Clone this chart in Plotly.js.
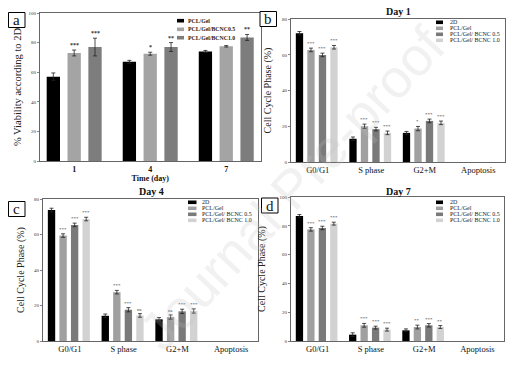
<!DOCTYPE html>
<html>
<head>
<meta charset="utf-8">
<script src="https://cdn.plot.ly/plotly-3.0.1.min.js"></script>
<style>html,body{margin:0;padding:0;background:#fff;}#chart{width:516px;height:367px;}</style>
</head>
<body>
<div id="chart"></div>
<script>
// ---------- DATA ----------
// Panel a: viability
const days = ['1', '4', '7'];
const viabNames = ['PCL/Gel', 'PCL/Gel/BCNC0.5', 'PCL/Gel/BCNC1.0'];
const viabGel = [57, 67, 74];
const viabGelErr = [2.5, 1, 0.7];
const viab05 = [73, 72.5, 77.5];
const viab05Err = [2, 1, 0.5];
const viab10 = [77, 77, 83.5];
const viab10Err = [6, 3, 2];
const viabGelSig = ['', '', ''];
const viab05Sig = ['***', '*', ''];
const viab10Sig = ['***', '**', '**'];

// Panels b-d: cell cycle (Apoptosis shows no bar)
const phases = ['G0/G1', 'S phase', 'G2+M', 'Apoptosis'];
const cycleNames = ['2D', 'PCL/Gel', 'PCL/Gel/ BCNC 0.5', 'PCL/Gel/ BCNC 1.0'];

const day1_2D = [72, 13, 16.3, null];
const day1_Gel = [62.7, 20, 18.7, null];
const day1_05 = [59.9, 18.4, 23, null];
const day1_10 = [64.2, 16.3, 21.9, null];
const day1_2DErr = [1, 1, 0.8, null];
const day1_GelErr = [1, 1.2, 1.2, null];
const day1_05Err = [1, 1, 1, null];
const day1_10Err = [1, 1, 1, null];
const day1_2DSig = ['', '', '', ''];
const day1_GelSig = ['***', '***', '*', ''];
const day1_05Sig = ['***', '***', '***', ''];
const day1_10Sig = ['***', '***', '***', ''];

const day4_2D = [73.8, 14.2, 12.2, null];
const day4_Gel = [59.4, 27.5, 13.5, null];
const day4_05 = [65.4, 17.6, 16.7, null];
const day4_10 = [68.7, 14.4, 16.9, null];
const day4_2DErr = [1, 1, 1, null];
const day4_GelErr = [1, 1, 1.2, null];
const day4_05Err = [1, 1.2, 1.2, null];
const day4_10Err = [1, 1, 1.2, null];
const day4_2DSig = ['', '', '', ''];
const day4_GelSig = ['***', '***', 'ns', ''];
const day4_05Sig = ['***', '***', '***', ''];
const day4_10Sig = ['***', 'ns', '***', ''];

const day7_2D = [86.8, 4.4, 7.4, null];
const day7_Gel = [77.5, 10.9, 9.7, null];
const day7_05 = [78.5, 9.3, 10.9, null];
const day7_10 = [81.5, 7.9, 9.7, null];
const day7_2DErr = [1, 1.3, 1, null];
const day7_GelErr = [1.2, 1.3, 1.3, null];
const day7_05Err = [1.2, 1, 1.2, null];
const day7_10Err = [1, 1, 1, null];
const day7_2DSig = ['', '', '', ''];
const day7_GelSig = ['***', '***', '**', ''];
const day7_05Sig = ['***', '***', '***', ''];
const day7_10Sig = ['***', '***', '**', ''];

// ---------- STYLE / LAYOUT HELPERS ----------
const W = 516, H = 367;
const px = v => v / W;
const py = v => 1 - v / H;
const FONT = 'Liberation Serif, Times New Roman, serif';

const viabColors = ['#000000', '#a4a4a4', '#7d7d7d'];
const cycleColors = ['#000000', '#a0a0a0', '#7a7a7a', '#d2d2d2'];

const offA = [-0.362, -0.088, 0.186], widA = 0.175;
const offC = [-0.41, -0.195, 0.02, 0.235], widC = 0.137;

const traces = [];
const annotations = [];
const shapes = [];

function addBars(xs, seriesList, errList, sigList, colors, offs, wid, xa, ya, sigSize, sigBold) {
  seriesList.forEach((vals, i) => {
    traces.push({
      type: 'bar', x: xs, y: vals, xaxis: xa, yaxis: ya,
      name: '', showlegend: false,
      offset: offs[i], width: wid,
      marker: {color: colors[i], line: {width: 0}},
      error_y: {type: 'data', array: errList[i], color: '#222', thickness: 0.8, width: 2, visible: true},
      hoverinfo: 'y'
    });
    sigList[i].forEach((s, k) => {
      if (!s || vals[k] === null) return;
      annotations.push({
        xref: xa, yref: ya, x: k + offs[i] + wid / 2, y: vals[k] + errList[i][k],
        text: sigBold ? '<b>' + s + '</b>' : s, showarrow: false, yanchor: 'bottom', xanchor: 'center',
        yshift: 0, font: {family: FONT, size: sigSize, color: '#333'}
      });
    });
  });
}

addBars(days, [viabGel, viab05, viab10], [viabGelErr, viab05Err, viab10Err],
  [viabGelSig, viab05Sig, viab10Sig], viabColors, offA, widA, 'x', 'y', 6, true);
addBars(phases, [day1_2D, day1_Gel, day1_05, day1_10], [day1_2DErr, day1_GelErr, day1_05Err, day1_10Err],
  [day1_2DSig, day1_GelSig, day1_05Sig, day1_10Sig], cycleColors, offC, widC, 'x2', 'y2', 5, false);
addBars(phases, [day4_2D, day4_Gel, day4_05, day4_10], [day4_2DErr, day4_GelErr, day4_05Err, day4_10Err],
  [day4_2DSig, day4_GelSig, day4_05Sig, day4_10Sig], cycleColors, offC, widC, 'x3', 'y3', 5, false);
addBars(phases, [day7_2D, day7_Gel, day7_05, day7_10], [day7_2DErr, day7_GelErr, day7_05Err, day7_10Err],
  [day7_2DSig, day7_GelSig, day7_05Sig, day7_10Sig], cycleColors, offC, widC, 'x4', 'y4', 5, false);

// manual legends
function addLegend(names, colors, swX0, swX1, txtX, rowsY, fsize, bold) {
  names.forEach((n, i) => {
    shapes.push({type: 'rect', xref: 'paper', yref: 'paper',
      x0: px(swX0), x1: px(swX1), y0: py(rowsY[i] + 1.8), y1: py(rowsY[i] - 1.8),
      fillcolor: colors[i], line: {width: 0}});
    annotations.push({xref: 'paper', yref: 'paper', x: px(txtX), y: py(rowsY[i]),
      xanchor: 'left', yanchor: 'middle', showarrow: false,
      text: bold ? '<b>' + n + '</b>' : n, font: {family: FONT, size: fsize, color: '#222'}});
  });
}
addLegend(viabNames, viabColors, 177, 184, 185.5, [20.7, 29.3, 37.7], 5.8, true);
addLegend(cycleNames, cycleColors, 436, 443, 447.5, [22.3, 28.3, 34.3, 40.3], 6, false);
addLegend(cycleNames, cycleColors, 188, 196.5, 199.5, [202.3, 208.3, 214.3, 220.3], 6, false);
addLegend(cycleNames, cycleColors, 436, 443, 447.5, [202.3, 208.3, 214.3, 220.3], 6, false);

// panel letters
function addLetter(t, x0, x1, y0, y1) {
  shapes.push({type: 'rect', xref: 'paper', yref: 'paper', x0: px(x0), x1: px(x1), y0: py(y1), y1: py(y0),
    line: {color: '#000', width: 1}, fillcolor: '#fff'});
  annotations.push({xref: 'paper', yref: 'paper', x: px((x0 + x1) / 2), y: py((y0 + y1) / 2),
    text: t, showarrow: false, xanchor: 'center', yanchor: 'middle',
    font: {family: FONT, size: 15, color: '#111'}});
}
addLetter('a', 8.5, 25, 12.5, 27.5);
addLetter('b', 260, 276.5, 11.5, 26.5);
addLetter('c', 8.5, 25, 201.5, 216.5);
addLetter('d', 261.5, 278, 198, 213);

// panel titles
[['Day 1', 398, 11.5], ['Day 4', 151, 192], ['Day 7', 398, 191.5]].forEach(d => {
  annotations.push({xref: 'paper', yref: 'paper', x: px(d[1]), y: py(d[2]), text: '<b>' + d[0] + '</b>',
    showarrow: false, xanchor: 'center', yanchor: 'middle', font: {family: FONT, size: 10, color: '#111'}});
});

// watermark
annotations.push({xref: 'paper', yref: 'paper', x: px(292), y: py(188), text: 'Journal Pre-proof',
  showarrow: false, textangle: -47, xanchor: 'center', yanchor: 'middle',
  font: {family: 'Liberation Sans, Arial, sans-serif', size: 54, color: 'rgba(190,190,190,0.22)'}});

function xAxis(dom, anchor, range, tickfont) {
  return {domain: dom, anchor: anchor, range: range, type: 'category',
    showline: true, linecolor: '#666', linewidth: 1, mirror: true,
    ticks: '', showgrid: false, zeroline: false, fixedrange: true,
    tickfont: tickfont};
}
function yAxis(dom, anchor, range, dtick, title, standoff, tsize) {
  return {domain: dom, anchor: anchor, range: range, dtick: dtick,
    showline: true, linecolor: '#666', linewidth: 1, mirror: true,
    ticks: 'outside', ticklen: 2, tickwidth: 0.8, tickcolor: '#666',
    showgrid: false, zeroline: false, fixedrange: true,
    tickfont: {family: FONT, size: 5, color: '#333'},
    title: {text: title, standoff: standoff, font: {family: FONT, size: tsize, color: '#222'}}};
}

const catFont = {family: FONT, size: 8.5, color: '#111'};
const layout = {
  width: W, height: H, margin: {l: 0, r: 0, t: 0, b: 0},
  paper_bgcolor: '#fff', plot_bgcolor: '#fff',
  showlegend: false, barmode: 'group',
  font: {family: FONT},
  xaxis: Object.assign(xAxis([px(40), px(260.5)], 'y', [-0.45, 2.45], {family: FONT, size: 8, color: '#111'}),
    {tickprefix: '<b>', ticksuffix: '</b>', title: {text: '<b>Time (day)</b>', standoff: 2, font: {family: FONT, size: 8, color: '#111'}}}),
  yaxis: yAxis([py(161), py(13)], 'x', [0, 100], 20, '% Viability according to 2D', 4, 10.5),
  xaxis2: xAxis([px(291), px(505)], 'y2', [-0.5, 3.5], catFont),
  yaxis2: yAxis([py(162), py(19)], 'x2', [0, 80], 20, 'Cell Cycle Phase (%)', 8, 10),
  xaxis3: xAxis([px(43), px(258)], 'y3', [-0.5, 3.5], catFont),
  yaxis3: yAxis([py(341), py(199)], 'x3', [0, 80], 20, 'Cell Cycle Phase (%)', 7, 10),
  xaxis4: xAxis([px(291), px(504)], 'y4', [-0.5, 3.5], catFont),
  yaxis4: yAxis([py(341), py(197)], 'x4', [0, 100], 20, 'Cell Cycle Phase (%)', 12, 10),
  annotations: annotations,
  shapes: shapes
};

Plotly.newPlot('chart', traces, layout, {displayModeBar: false, staticPlot: true});
</script>
</body>
</html>
